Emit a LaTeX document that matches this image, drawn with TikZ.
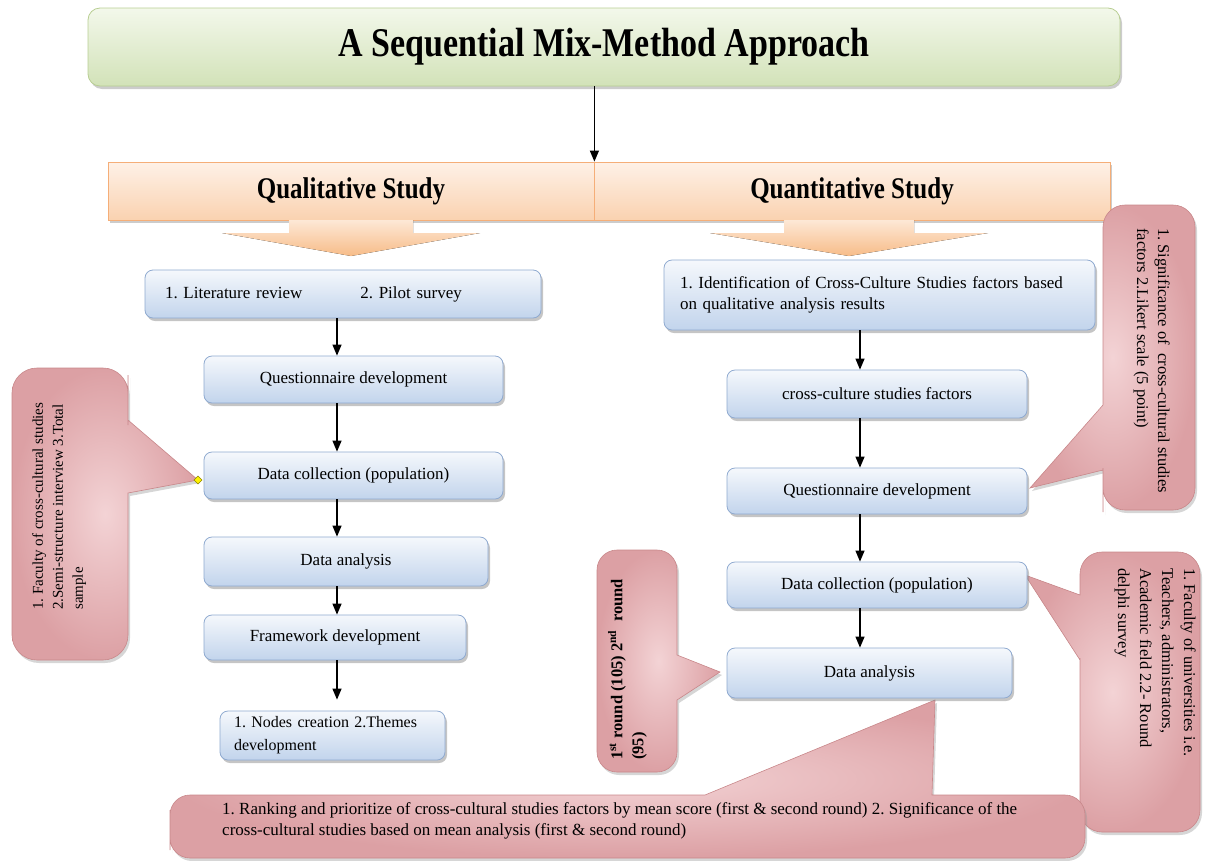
\documentclass[tikz,border=0pt]{standalone}
\usepackage{fontspec}
\setmainfont{Liberation Serif}
\usepackage{graphicx}
\usetikzlibrary{arrows.meta, positioning, calc, shadows}
\definecolor{titletop}{HTML}{F3F8EB}
\definecolor{titlebot}{HTML}{D2E2B8}
\definecolor{titleline}{HTML}{B8CE92}
\definecolor{bandtop}{HTML}{FEF1E7}
\definecolor{bandbot}{HTML}{FAD2B0}
\definecolor{bandline}{HTML}{F5AE78}
\definecolor{blktop}{HTML}{FDE8D6}
\definecolor{blkbot}{HTML}{F7BC88}
\definecolor{bluetop}{HTML}{F5F8FC}
\definecolor{bluebot}{HTML}{C2D4EC}
\definecolor{blueline}{HTML}{8FAAD0}
\definecolor{pinkin}{HTML}{F3D3D5}
\definecolor{pinkout}{HTML}{DCA0A4}
\definecolor{pinkline}{HTML}{C8878A}
\newcommand\bodyfont{\fontsize{17}{21}\selectfont}
\newcommand\notefont{\fontsize{15}{20}\selectfont}
\tikzset{
  titlebox/.style={rectangle, rounded corners=12pt, draw=titleline,
    top color=titletop, bottom color=titlebot, line width=0.8pt,
    drop shadow={shadow xshift=2pt, shadow yshift=-3pt, fill=black!40, opacity=0.5}},
  bandbox/.style={rectangle, draw=bandline, top color=bandtop,
    bottom color=bandbot, line width=0.8pt, inner sep=0pt,
    drop shadow={shadow xshift=2pt, shadow yshift=-3pt, fill=black!40, opacity=0.5}},
  stepbox/.style={rectangle, rounded corners=8pt, draw=blueline,
    top color=bluetop, bottom color=bluebot, line width=0.8pt,
    font=\bodyfont, inner sep=0pt,
    drop shadow={shadow xshift=2pt, shadow yshift=-3pt, fill=black!45, opacity=0.5}},
  leftbox/.style={stepbox, align=left},
  callout/.style={draw=pinkline, line width=0.6pt, inner color=pinkin,
    outer color=pinkout,
    drop shadow={shadow xshift=2pt, shadow yshift=-3pt, fill=black!40, opacity=0.4}},
  callnote/.style={font=\notefont, align=left, inner sep=0pt},
  blockarrow/.style={top color=blktop, bottom color=blkbot},
  flow/.style={-{Triangle[length=11pt,width=9pt]}, line width=1.2pt, black}
}

\begin{document}
\frenchspacing
\begin{tikzpicture}[x=1pt, y=-1pt]
  \useasboundingbox (0,0) rectangle (1216,860);

  % title and the two study headers
  \node[titlebox, minimum width=1032, minimum height=78] (title) at (604,47)
    {\scalebox{1}[1.2]{\bfseries\fontsize{34}{40}\selectfont A Sequential Mix-Method Approach}};
  \node[bandbox, minimum width=486, minimum height=58] (qual) at (351,191)
    {\scalebox{1}[1.2]{\bfseries\fontsize{25}{30}\selectfont Qualitative Study}};
  \node[bandbox, minimum width=516, minimum height=58] (quan) at (852,191)
    {\scalebox{1}[1.2]{\bfseries\fontsize{25}{30}\selectfont Quantitative Study}};
  \draw[flow] (title.south -| qual.east) -- (qual.north east);

  % block arrows under the headers
  \foreach \cx/\sw/\hw in {351/62/129, 849/65/139} {
    \fill[blockarrow] (\cx-\sw,220) -- (\cx-\sw,233) -- (\cx-\hw,233)
      -- (\cx,256) -- (\cx+\hw,233) -- (\cx+\sw,233) -- (\cx+\sw,220) -- cycle;
  }

  % callouts
  \draw[callout] (12,500) [rounded corners=25pt] -- (12,368) -- (128,368)
    -- (128,400) [sharp corners] -- (128,420) -- (198,480) -- (128,493)
    -- (128,520) [rounded corners=25pt] -- (128,660) -- (12,660) -- cycle;
  \draw[callout] (1150,205) [rounded corners=22pt] -- (1195,205) -- (1195,510)
    -- (1103,510) -- (1103,490) [sharp corners] -- (1103,470) -- (1030,488)
    -- (1103,405) -- (1103,385) [rounded corners=22pt] -- (1103,205) -- cycle;
  \draw[callout] (1140,552) [rounded corners=22pt] -- (1200,552) -- (1200,832)
    -- (1080,832) -- (1080,680) [sharp corners] -- (1080,660) -- (1025,575)
    -- (1080,595) -- (1080,585) [rounded corners=22pt] -- (1080,552) -- cycle;
  \draw[callout] (637,550) [rounded corners=20pt] -- (677,550) -- (677,630)
    [sharp corners] -- (677,655) -- (720,672) -- (677,700) -- (677,720)
    [rounded corners=20pt] -- (677,772) -- (597,772) -- (597,550) -- cycle;
  \draw[callout] (170,830) [rounded corners=20pt] -- (170,795) -- (680,795)
    [sharp corners] -- (705,795) -- (935,700) -- (932,795) -- (960,795)
    [rounded corners=20pt] -- (1085,795) -- (1085,858) -- (170,858) -- cycle;
  \fill[yellow, draw=olive, line width=0.5pt] (198,476) -- (202,480) -- (198,484) -- (194,480) -- cycle;

  \node[callnote, rotate=90, anchor=north west] (lnote) at (32,610)
    {1. Faculty of cross-cultural studies\\2.Semi-structure interview 3.Total\\sample};
  \node[callnote, rotate=-90, anchor=north west, font=\fontsize{16.5}{21}\selectfont] (urnote) at (1170,228)
    {1. Significance of~ cross-cultural studies\\factors 2.Likert scale (5 point)};
  \node[callnote, rotate=-90, anchor=north west, font=\fontsize{16.5}{22}\selectfont] (lrnote) at (1196,568)
    {1. Faculty of universities i.e.\\Teachers, administrators,\\Academic field 2.2- Round\\delphi survey};
  \node[callnote, rotate=90, anchor=north west, font=\bfseries\fontsize{16.5}{21}\selectfont] (mnote) at (608,760)
    {1\textsuperscript{st} round (105) 2\textsuperscript{nd}~ round\\(95)};
  \node[callnote, anchor=north west, font=\fontsize{17}{21}\selectfont] (bnote) at (222,802)
    {1. Ranking and prioritize of cross-cultural studies factors by mean score (first \& second round) 2. Significance of the\\cross-cultural studies based on mean analysis (first \& second round)};

  % qualitative column
  \coordinate (lx) at (337,0);
  \node[leftbox, text width=356, inner xsep=20, minimum height=48] (lit) at (343,294)
    {1. Literature review\hspace{58pt}2. Pilot survey};
  \node[stepbox, minimum width=299, minimum height=47] (lq) at (353.5,379.5) {Questionnaire development};
  \node[stepbox, minimum width=299, minimum height=47] (ldc) at (353.5,475.5) {Data collection (population)};
  \node[stepbox, minimum width=284, minimum height=49] (lda) at (346,561.5) {Data analysis};
  \node[stepbox, minimum width=262, minimum height=45] (lfw) at (335,637.5) {Framework development};
  \node[leftbox, text width=197, inner xsep=14, minimum height=49, font=\fontsize{16}{23}\selectfont] (lnc) at (332.5,735.5)
    {1. Nodes creation 2.Themes\\development};
  \draw[flow] (lit.south -| lx) -- (lq.north -| lx);
  \draw[flow] (lq.south -| lx) -- (ldc.north -| lx);
  \draw[flow] (ldc.south -| lx) -- (lda.north -| lx);
  \draw[flow] (lda.south -| lx) -- (lfw.north -| lx);
  \draw[flow, shorten >=11pt] (lfw.south -| lx) -- (lnc.north -| lx);

  % quantitative column
  \coordinate (rx) at (860,0);
  \node[leftbox, text width=399, inner xsep=16, minimum height=70] (rid) at (879.5,295)
    {1. Identification of Cross-Culture Studies factors based\\on qualitative analysis results};
  \node[stepbox, minimum width=300, minimum height=48] (rcf) at (877,394) {cross-culture studies factors};
  \node[stepbox, minimum width=300, minimum height=46] (rq) at (877,491) {Questionnaire development};
  \node[stepbox, minimum width=300, minimum height=46] (rdc) at (877,585) {Data collection (population)};
  \node[stepbox, minimum width=285, minimum height=50] (rda) at (869.5,673) {Data analysis};
  \draw[flow] (rid.south -| rx) -- (rcf.north -| rx);
  \draw[flow] (rcf.south -| rx) -- (rq.north -| rx);
  \draw[flow] (rq.south -| rx) -- (rdc.north -| rx);
  \draw[flow] (rdc.south -| rx) -- (rda.north -| rx);
\end{tikzpicture}
\end{document}
